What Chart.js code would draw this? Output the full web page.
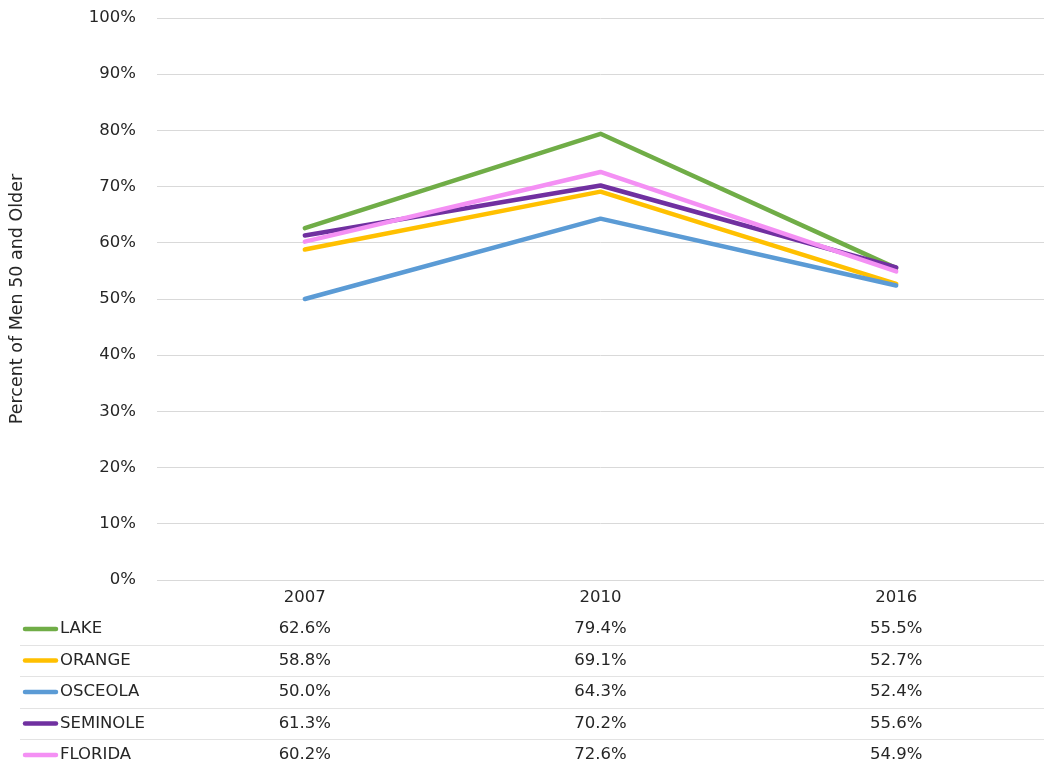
<!DOCTYPE html>
<html>
<head>
<meta charset="utf-8">
<script src="https://cdn.jsdelivr.net/npm/chart.js@4/dist/chart.umd.min.js"></script>
<style>
html,body{margin:0;padding:0;background:#fff;}
#wrap{width:1044px;height:770px;position:relative;}
</style>
</head>
<body>
<div id="wrap"><canvas id="c" width="1044" height="770"></canvas></div>
<script>
const years = ['2007', '2010', '2016'];
const seriesNames = ['LAKE', 'ORANGE', 'OSCEOLA', 'SEMINOLE', 'FLORIDA'];
const lake = [62.6, 79.4, 55.5];
const orange = [58.8, 69.1, 52.7];
const osceola = [50.0, 64.3, 52.4];
const seminole = [61.3, 70.2, 55.6];
const florida = [60.2, 72.6, 54.9];
const seriesValues = [lake, orange, osceola, seminole, florida];
const seriesColors = ['#70AD47', '#FFC000', '#5B9BD5', '#7030A0', '#F490F4'];
const yTicks = [0, 10, 20, 30, 40, 50, 60, 70, 80, 90, 100];
const yTitle = 'Percent of Men 50 and Older';

const FONT = 'DejaVu Sans';
const FS = 16.5;
const TXT = '#262626';

const tablePlugin = {
  id: 'dataTable',
  afterDraw(chart) {
    const ctx = chart.ctx;
    const xs = chart.scales.x;
    const base = chart.chartArea.bottom;
    const rowH = 31.5;
    const firstRow = base + 49;
    ctx.save();
    ctx.strokeStyle = '#e3e3e3';
    ctx.lineWidth = 1;
    for (let i = 0; i < seriesNames.length - 1; i++) {
      const y = Math.round(firstRow + i * rowH + rowH / 2) + 0.5;
      ctx.beginPath();
      ctx.moveTo(20, y);
      ctx.lineTo(chart.width, y);
      ctx.stroke();
    }
    ctx.font = FS + 'px "' + FONT + '"';
    ctx.textBaseline = 'middle';
    seriesNames.forEach((name, i) => {
      const y = firstRow + i * rowH;
      ctx.strokeStyle = seriesColors[i];
      ctx.lineWidth = 4.5;
      ctx.lineCap = 'round';
      ctx.beginPath();
      ctx.moveTo(25, y);
      ctx.lineTo(56, y);
      ctx.stroke();
      ctx.fillStyle = TXT;
      ctx.textAlign = 'left';
      ctx.fillText(name, 60, y);
      ctx.textAlign = 'center';
      seriesValues[i].forEach((v, j) => {
        ctx.fillText(v.toFixed(1) + '%', xs.getPixelForValue(j), y);
      });
    });
    ctx.restore();
  }
};

const datasets = seriesNames.map((name, i) => ({
  label: name,
  data: seriesValues[i],
  borderColor: seriesColors[i],
  backgroundColor: seriesColors[i],
  borderWidth: 4.5,
  pointRadius: 0,
  pointHoverRadius: 0,
  borderCapStyle: 'round',
  borderJoinStyle: 'round',
  tension: 0,
  order: seriesNames.length - i
}));

new Chart(document.getElementById('c'), {
  type: 'line',
  data: { labels: years, datasets },
  plugins: [tablePlugin],
  options: {
    responsive: false,
    animation: false,
    layout: { padding: { top: 18, left: 0, right: 0, bottom: 0 } },
    plugins: { legend: { display: false }, tooltip: { enabled: false } },
    scales: {
      x: {
        offset: true,
        grid: { display: false, drawTicks: false },
        border: { display: true, color: '#d9d9d9', width: 1 },
        ticks: { color: TXT, font: { family: FONT, size: FS }, padding: 8 },
        afterFit(s) { s.height = 190; s.paddingLeft = 0; s.paddingRight = 0; }
      },
      y: {
        min: 0, max: 100,
        afterBuildTicks(s) { s.ticks = yTicks.map(v => ({ value: v })); },
        grid: { color: '#d9d9d9', lineWidth: 1, drawTicks: false },
        border: { display: false },
        ticks: {
          color: TXT, font: { family: FONT, size: FS }, padding: 21,
          callback: v => v + '%'
        },
        title: {
          display: true, text: yTitle, color: TXT,
          font: { family: FONT, size: 17.5 }, padding: { top: 7, bottom: 0 }
        },
        afterFit(s) { s.width = 157; s.paddingTop = 0; s.paddingBottom = 0; }
      }
    }
  }
});
</script>
</body>
</html>
